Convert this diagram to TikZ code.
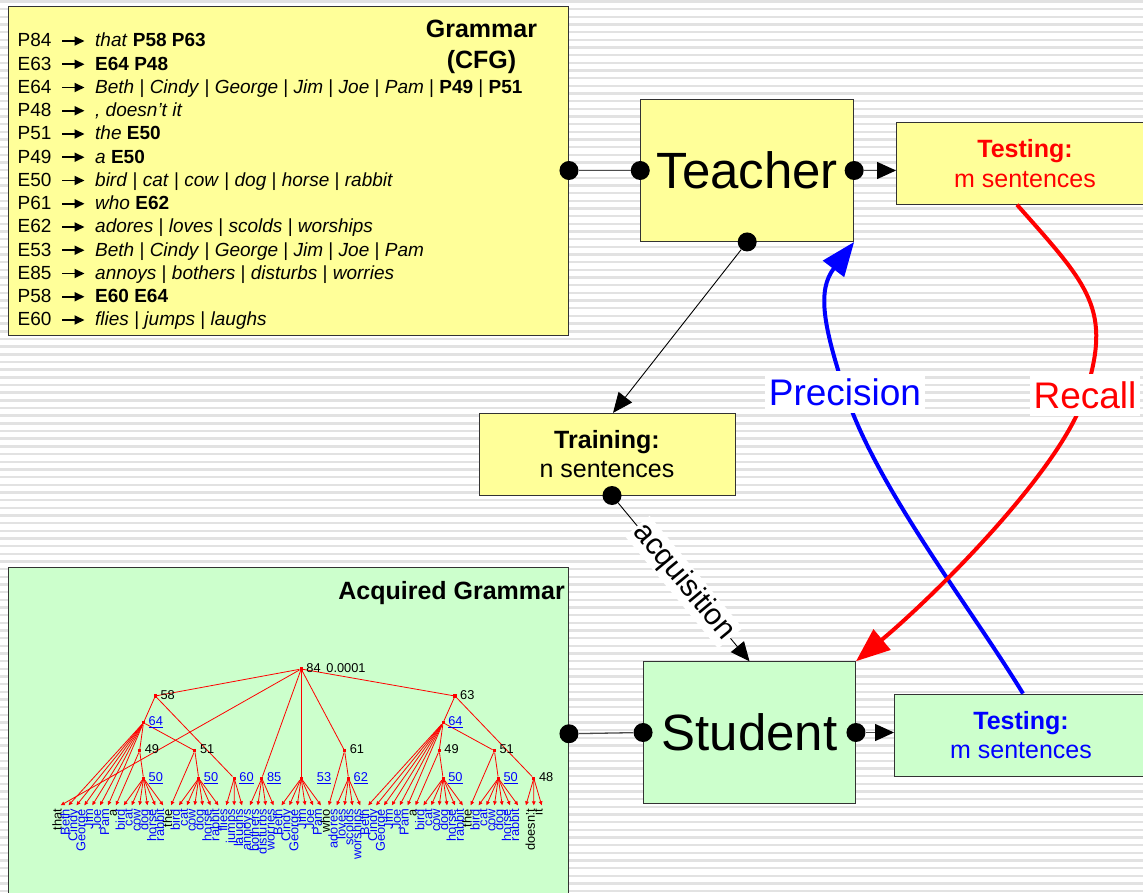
\documentclass[tikz,border=0pt]{standalone}
\usepackage{fontspec}
\setmainfont{Liberation Sans}
\usetikzlibrary{arrows.meta}

\definecolor{cfgyellow}{RGB}{255,255,153}
\definecolor{cfggreen}{RGB}{204,255,204}
\definecolor{stripegray}{RGB}{226,226,226}

\newcommand{\fsz}[2]{\fontsize{#1}{#2}\selectfont}
\newcommand{\cfgt}[1]{\textit{#1}}
\newcommand{\cfgn}[1]{\textbf{#1}}

\begin{document}
\begin{tikzpicture}
  [x=1pt, y=-1pt,
   box/.style={rectangle, draw=black!80, line width=0.9pt, inner sep=0pt},
   port/.style={circle, fill=black, inner sep=0pt, minimum size=19pt},
   wire/.style={draw=black!70, line width=1.3pt},
   feed/.style={wire, -{Triangle[length=19pt,width=17pt,color=black]}},
   measure/.style={line width=4pt, -{Triangle[length=34pt,width=26pt]}},
   ruleto/.style={line width=1.8pt, -{Triangle[length=10pt,width=9pt]}},
   rulefont/.style={anchor=base west, inner sep=0pt, font=\fsz{19}{23}},
   treenode/.style={rectangle, fill=red, inner sep=0pt, minimum size=3.2pt},
   treeedge/.style={red, line width=0.8pt},
   leafedge/.style={treeedge, -{Triangle[length=4pt,width=3.6pt]}},
   numlabel/.style={anchor=base west, inner sep=0pt, font=\fsz{12.8}{14}},
   leafword/.style={rotate=90, anchor=base east, inner sep=0pt, font=\fsz{12.8}{14}}]
\useasboundingbox (0,0) rectangle (1143,893);
\clip (0,0) rectangle (1143,893);
\fill[white] (0,0) rectangle (1143,893);
\foreach \s in {0,...,116}
  \draw[stripegray, line width=2.4pt] (0,{1.5+7.67*\s}) -- (1143,{1.5+7.67*\s});

% boxes
\node (cfg) [box, fill=cfgyellow, minimum width=560.5pt, minimum height=329pt] at (288.25,170.5) {};
\node (cfgtitle) [font=\bfseries\fsz{25}{31.7}, align=center] at (481.5,47) {Grammar\\(CFG)};
\node (teacher) [box, fill=cfgyellow, minimum width=213pt, minimum height=142pt, font=\fsz{51}{60}] at (747.2,170.5) {Teacher};
\node (testA) [box, fill=cfgyellow, minimum width=257pt, minimum height=81.6pt, text=red, align=center, font=\fsz{25}{29.5}] at (1025,163.5) {\textbf{Testing:}\\m sentences};
\node (training) [box, fill=cfgyellow, minimum width=256pt, minimum height=81.7pt, align=center, font=\fsz{25}{29.5}] at (607,454.2) {\textbf{Training:}\\n sentences};
\node (acq) [box, fill=cfggreen, minimum width=560.5pt, minimum height=332.5pt] at (288.25,733.75) {};
\node (acqtitle) [anchor=base east, inner sep=0pt, font=\bfseries\fsz{25}{30}] at (565,599) {Acquired Grammar};
\node (student) [box, fill=cfggreen, minimum width=212pt, minimum height=141.6pt, font=\fsz{51}{60}] at (749.5,732.5) {Student};
\node (testB) [box, fill=cfggreen, minimum width=253pt, minimum height=82pt, text=blue, align=center, font=\fsz{25}{29.5}] at (1021,735) {\textbf{Testing:}\\m sentences};

% grammar rules
\foreach \lhs/\rhs [count=\k from 0] in {
  P84/{\cfgt{that} \cfgn{P58 P63}},
  E63/{\cfgn{E64 P48}},
  E64/{\cfgt{Beth} | \cfgt{Cindy} | \cfgt{George} | \cfgt{Jim} | \cfgt{Joe} | \cfgt{Pam} | \cfgn{P49} | \cfgn{P51}},
  P48/{\cfgt{, doesn't it}},
  P51/{\cfgt{the} \cfgn{E50}},
  P49/{\cfgt{a} \cfgn{E50}},
  E50/{\cfgt{bird} | \cfgt{cat} | \cfgt{cow} | \cfgt{dog} | \cfgt{horse} | \cfgt{rabbit}},
  P61/{\cfgt{who} \cfgn{E62}},
  E62/{\cfgt{adores} | \cfgt{loves} | \cfgt{scolds} | \cfgt{worships}},
  E53/{\cfgt{Beth} | \cfgt{Cindy} | \cfgt{George} | \cfgt{Jim} | \cfgt{Joe} | \cfgt{Pam}},
  E85/{\cfgt{annoys} | \cfgt{bothers} | \cfgt{disturbs} | \cfgt{worries}},
  P58/{\cfgn{E60 E64}},
  E60/{\cfgt{flies} | \cfgt{jumps} | \cfgt{laughs}}}
{
  \node (lhs\k) [rulefont] at (17.5,{46.8+23.25*\k}) {\lhs};
  \node (rhs\k) [rulefont] at (95,{46.8+23.25*\k}) {\rhs};
  \draw[ruleto] ([xshift=-33pt,yshift=5.8pt]rhs\k.base west) -- ++(22.5,0);
}

% ports and wires
\node (cfgport) [port] at (cfg.east) {};
\node (tin) [port] at (teacher.west) {};
\node (tout) [port] at (teacher.east) {};
\node (tdown) [port] at (teacher.south) {};
\node (trout) [port] at ([xshift=5pt]training.south) {};
\node (acqport) [port] at (acq.east) {};
\node (sin) [port] at (student.west) {};
\node (sout) [port] at (student.east) {};
\draw[wire] (cfgport) -- (tin);
\draw[feed] (tout) -- (tout -| testA.west);
\draw[black, line width=0.9pt, -{Triangle[length=20pt,width=17pt]}] (tdown) -- ([xshift=6pt]training.north);
\draw[feed, draw=black, line width=0.9pt] (trout) -- (student.north)
  node (acqlabel) [pos=0.5, sloped, fill=white, inner sep=2pt, text=black, font=\fsz{30}{34}] {acquisition};
\draw[wire] (acqport) -- (sin);
\draw[feed] (sout) -- (sout -| testB.west);

% precision and recall
\draw[measure, blue] ([xshift=2pt]testB.north) .. controls (971,608) and (876,487) .. (845,392)
  node (prec) [fill=white, inner xsep=4pt, inner ysep=7pt, font=\fsz{37}{40}] {Precision}
  .. controls (823.3,325.5) and (816.9,290.4) .. (teacher.south east);
\draw[measure, red] ([xshift=-8pt]testA.south) .. controls (1089.6,286.5) and (1112.5,309.3) .. (1085,395)
  node (recall) [fill=white, inner xsep=4pt, inner ysep=7pt, font=\fsz{37}{40}] {Recall}
  .. controls (1060.6,471.2) and (932.4,597.7) .. (student.north east);

% acquired tree
\foreach \w/\c [count=\i from 0] in {that/black, Beth/blue, Cindy/blue, George/blue, Jim/blue, Joe/blue, Pam/blue, a/black, bird/blue, cat/blue, cow/blue, dog/blue, horse/blue, rabbit/blue, the/black, bird/blue, cat/blue, cow/blue, dog/blue, horse/blue, rabbit/blue, flies/blue, jumps/blue, laughs/blue, annoys/blue, bothers/blue, disturbs/blue, worries/blue, Beth/blue, Cindy/blue, George/blue, Jim/blue, Joe/blue, Pam/blue, who/black, adores/blue, loves/blue, scolds/blue, worships/blue, Beth/blue, Cindy/blue, George/blue, Jim/blue, Joe/blue, Pam/blue, a/black, bird/blue, cat/blue, cow/blue, dog/blue, horse/blue, rabbit/blue, the/black, bird/blue, cat/blue, cow/blue, dog/blue, horse/blue, rabbit/blue, {}/black, doesn't/black, it/black}
{
  \coordinate (l\i) at ({60.7+7.885*\i},805.3);
  \node (w\i) [leafword, text=\c] at ([xshift=1pt,yshift=-3.7pt]l\i) {\w};
}
\foreach \n/\px/\py in {n84/301.2/669, n58/155.3/696, n63/455.0/696, n64a/143.5/722.7, n49a/139.6/750.7, n51a/194.8/750.7, n50a/143.5/778.3, n50b/198.7/778.3, n60/234.2/778.3, n85/261.8/778.3, n53/301.2/778.3, n61/344.6/750.7, n62/348.5/778.3, n64b/443.1/722.7, n49b/439.2/750.7, n51b/494.4/750.7, n50c/443.1/778.3, n50d/498.3/778.3, n48/533.8/778.3}
  \node (\n) [treenode] at (\px,\py) {};
\foreach \a/\b in {n84/n58, n84/n85, n84/n53, n84/n61, n84/n63, n58/n64a, n58/n60, n64a/n49a, n64a/n51a, n49a/n50a, n51a/n50b, n61/n62, n63/n64b, n63/n48, n64b/n49b, n64b/n51b, n49b/n50c, n51b/n50d}
  \draw[treeedge] (\a) -- (\b);
\foreach \a/\first/\last in {n84/0/0, n64a/1/6, n49a/7/7, n50a/8/13, n51a/14/14, n50b/15/20, n60/21/23, n85/24/27, n53/28/33, n61/34/34, n62/35/38, n64b/39/44, n49b/45/45, n50c/46/51, n51b/52/52, n50d/53/58, n48/59/61}
  \foreach \j in {\first,...,\last}
    \draw[leafedge] (\a) -- (l\j);
\foreach \n/\t in {n84/84, n58/58, n63/63, n49a/49, n51a/51, n61/61, n49b/49, n51b/51, n48/48}
  \node (t\n) [numlabel] at ([xshift=5pt,yshift=-3pt]\n.center) {\t};
\foreach \n/\t in {n64a/64, n50a/50, n50b/50, n60/60, n85/85, n62/62, n64b/64, n50c/50, n50d/50}
  \node (t\n) [numlabel, text=blue] at ([xshift=5pt,yshift=-3pt]\n.center) {\underline{\t}};
\node (tn53) [numlabel, text=blue] at ([xshift=15.5pt,yshift=-3pt]n53.center) {\underline{53}};
\node (score) [numlabel] at ([xshift=25pt,yshift=-3pt]n84.center) {0.0001};
\end{tikzpicture}
\end{document}
